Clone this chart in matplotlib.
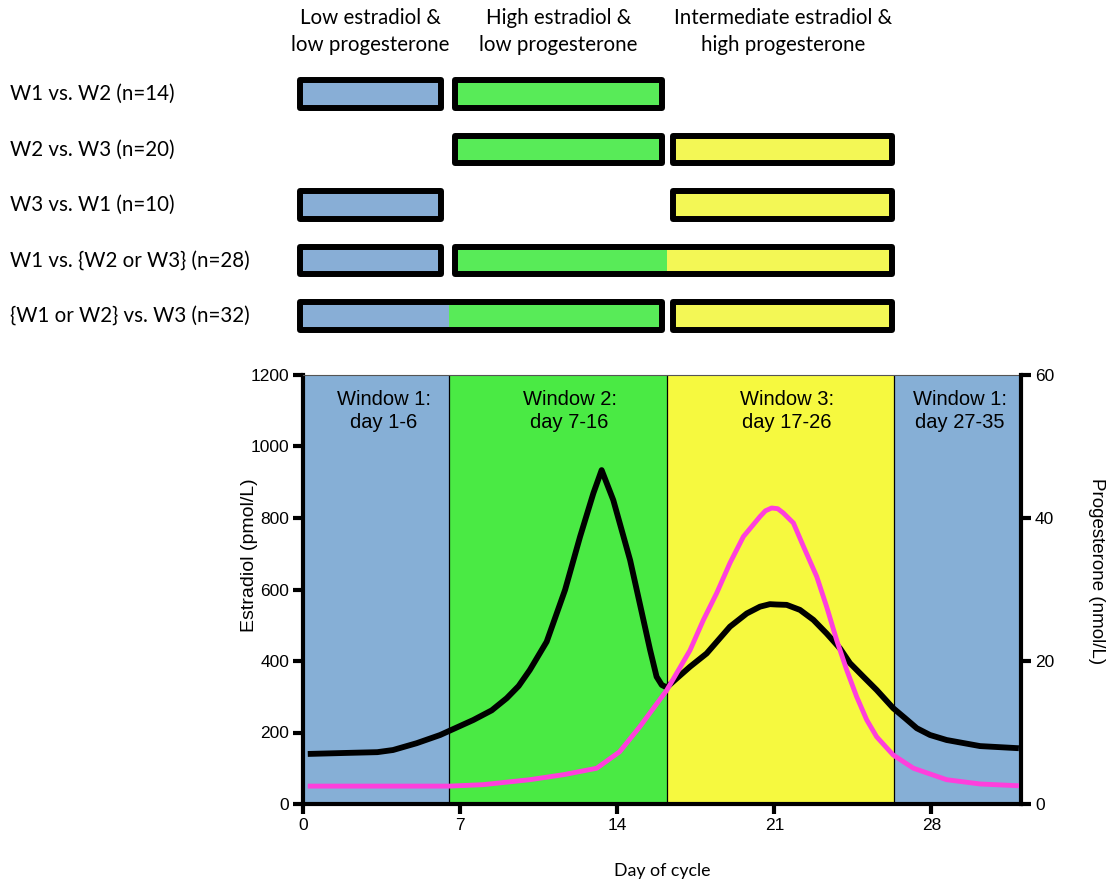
import matplotlib
matplotlib.use("Agg")
import matplotlib.pyplot as plt
import matplotlib.transforms as mtransforms
from matplotlib.patches import Rectangle

# ---- data ----
window_edges = [0, 6.5, 16.2, 26.33, 32]
window_colors = ["#86AFD6", "#4AEA44", "#F6F93F", "#86AFD6"]
window_text = ["Window 1:\nday 1-6", "Window 2:\nday 7-16", "Window 3:\nday 17-26", "Window 1:\nday 27-35"]
window_text_x = [3.6, 11.87, 21.55, 29.27]

est_day = [0.2, 2.0, 3.3, 4.0, 5.05, 6.1, 7.58, 8.4, 9.07, 9.6, 10.1, 10.85, 11.67, 12.34,
           12.93, 13.3, 13.82, 14.57, 15.0, 15.46, 15.75, 15.98, 16.2, 16.57, 17.24, 17.98,
           19.02, 19.77, 20.36, 20.8, 21.1, 21.55, 22.14, 22.74, 23.33, 23.93, 24.37, 24.97,
           25.56, 26.3, 26.83, 27.35, 27.94, 28.68, 30.17, 31.9]
est_val = [140, 143, 145, 151, 170, 193, 235, 262, 296, 330, 375, 454, 599, 748,
           869, 934, 850, 682, 561, 431, 356, 333, 326, 347, 384, 421,
           496, 533, 552, 559, 558, 557, 543, 515, 477, 435, 394, 356,
           319, 268, 240, 212, 193, 179, 162, 156]

prog_day = [0.2, 6.5, 8.0, 10.1, 11.6, 13.08, 14.1, 15.0, 16.2, 17.24, 17.83, 18.43, 19.02,
            19.62, 20.36, 20.6, 20.88, 21.15, 21.4, 21.85, 22.3, 22.89, 23.33, 23.78, 24.23,
            24.67, 25.12, 25.56, 26.3, 27.2, 28.68, 30.17, 31.9]
prog_val = [2.5, 2.5, 2.7, 3.4, 4.1, 5.0, 7.3, 10.8, 15.9, 21.5, 25.7, 29.5, 33.7,
            37.4, 40.2, 41.0, 41.4, 41.3, 40.7, 39.3, 36.0, 31.8, 27.6, 22.9, 18.7,
            15.0, 11.75, 9.4, 6.85, 5.0, 3.4, 2.8, 2.55]

x_ticks = [0, 7, 14, 21, 28]
est_ticks = [0, 200, 400, 600, 800, 1000, 1200]
prog_ticks = [0, 20, 40, 60]

# comparison bars
bar_colors = {"W1": "#88AED6", "W2": "#58EB58", "W3": "#F3F755"}
bar_span = {"W1": (-0.15, 6.15), "W2": (6.75, 16.0), "W3": (16.5, 26.25)}
row_labels = ["W1 vs. W2 (n=14)", "W2 vs. W3 (n=20)", "W3 vs. W1 (n=10)",
              "W1 vs. {W2 or W3} (n=28)", "{W1 or W2} vs. W3 (n=32)"]
row_groups = [[["W1"], ["W2"]],
              [["W2"], ["W3"]],
              [["W1"], ["W3"]],
              [["W1"], ["W2", "W3"]],
              [["W1", "W2"], ["W3"]]]
header_labels = [("Low estradiol &", "low progesterone"),
                 ("High estradiol &", "low progesterone"),
                 ("Intermediate estradiol &", "high progesterone")]

W, H = 1110, 886
fig = plt.figure(figsize=(W / 100, H / 100), dpi=100)

# ---- main chart ----
ax = fig.add_axes([303.3 / W, 82 / H, 717.8 / W, 429 / H])
ax.set_xlim(0, 32)
ax.set_ylim(0, 1200)
for i in range(len(window_colors)):
    ax.axvspan(window_edges[i], window_edges[i + 1], color=window_colors[i], lw=0, zorder=0)
for e in window_edges[1:-1]:
    ax.axvline(e, color="black", lw=0.9, zorder=1)
for tx, t in zip(window_text_x, window_text):
    ax.text(tx, 0.966, t, transform=ax.get_xaxis_transform(), ha="center", va="top",
            fontsize=14.5, family="Liberation Sans", linespacing=1.3, zorder=3)

ax.plot(est_day, est_val, color="black", lw=4.2, solid_capstyle="butt",
        solid_joinstyle="round", zorder=4)

ax2 = ax.twinx()
ax2.set_ylim(0, 60)
ax2.plot(prog_day, prog_val, color="#FF3FDC", lw=3.5, solid_capstyle="butt",
         solid_joinstyle="round", zorder=3)

ax.set_xticks(x_ticks)
ax.set_yticks(est_ticks)
ax2.set_yticks(prog_ticks)
for a in (ax, ax2):
    a.tick_params(direction="out", length=7, width=3, labelsize=12.5, pad=3)
    for lab in a.get_xticklabels() + a.get_yticklabels():
        lab.set_family("Liberation Sans")

for s in ["left", "bottom"]:
    ax.spines[s].set_linewidth(3)
ax.spines["right"].set_visible(False)
ax.spines["top"].set_linewidth(0.8)
ax.spines["top"].set_color("#555555")
for s in ["top", "left", "bottom"]:
    ax2.spines[s].set_visible(False)
ax2.spines["right"].set_linewidth(3)

fig.text(249 / W, 1 - 555 / H, "Estradiol (pmol/L)", rotation=90, ha="center", va="center",
         fontsize=14, family="Liberation Sans")
fig.text(1097 / W, 1 - 571 / H, "Progesterone (nmol/L)", rotation=270, ha="center", va="center",
         fontsize=13.5, family="Liberation Sans")
fig.text(662 / W, 1 - 871 / H, "Day of cycle", ha="center", va="center",
         fontsize=12.8, family="Lato")

# ---- comparison bars ----
axb = fig.add_axes([303.3 / W, 1 - 343.75 / H, 717.8 / W, 277.5 / H])
axb.set_xlim(0, 32)
axb.set_ylim(len(row_labels) - 0.5, -0.5)
axb.axis("off")
order = ["W1", "W2", "W3"]
bh = 0.49
for r, groups in enumerate(row_groups):
    for grp in groups:
        x0 = bar_span[grp[0]][0]
        x1 = bar_span[grp[-1]][1]
        for k, w in enumerate(grp):
            fx0 = x0 if k == 0 else window_edges[order.index(w)]
            fx1 = x1 if k == len(grp) - 1 else window_edges[order.index(w) + 1]
            axb.add_patch(Rectangle((fx0, r - bh / 2), fx1 - fx0, bh, facecolor=bar_colors[w],
                                    edgecolor="none", clip_on=False))
        axb.add_patch(Rectangle((x0, r - bh / 2), x1 - x0, bh, facecolor="none",
                                edgecolor="black", lw=4.3, joinstyle="round", clip_on=False))

lab_tr = mtransforms.blended_transform_factory(fig.transFigure, axb.transData)
for r, lab in enumerate(row_labels):
    axb.text(10 / W, r, lab, transform=lab_tr, ha="left", va="center", fontsize=14.8, family="Lato")

head_tr = mtransforms.blended_transform_factory(axb.transData, fig.transFigure)
for w, (l1, l2) in zip(order, header_labels):
    cx = (bar_span[w][0] + bar_span[w][1]) / 2
    axb.text(cx, 1 - 18 / H, l1, transform=head_tr, ha="center", va="center", fontsize=14.8, family="Lato")
    axb.text(cx, 1 - 45 / H, l2, transform=head_tr, ha="center", va="center", fontsize=14.8, family="Lato")

fig.savefig("out.png", dpi=100)
